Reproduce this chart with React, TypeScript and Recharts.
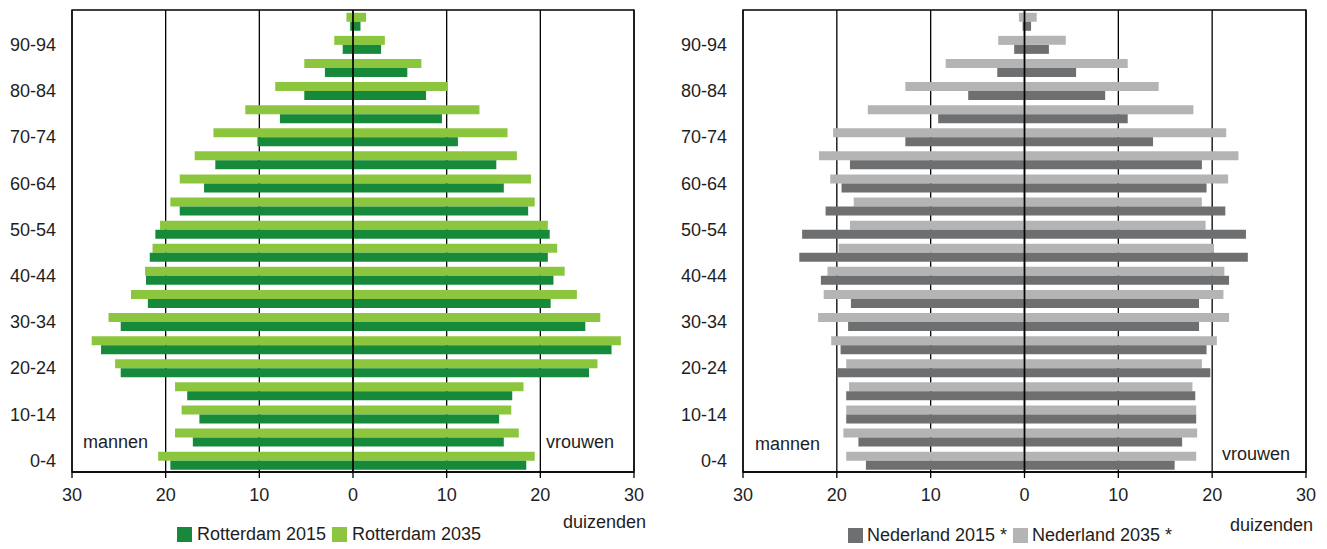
import React from 'react';
import { BarChart, Bar, XAxis, YAxis, CartesianGrid, ReferenceLine, ReferenceArea } from 'recharts';

// bevolkingspiramides Rotterdam en Nederland, x 1000 (duizenden)
const AGE_GROUPS = [
  '0-4', '5-9', '10-14', '15-19', '20-24', '25-29', '30-34', '35-39', '40-44', '45-49',
  '50-54', '55-59', '60-64', '65-69', '70-74', '75-79', '80-84', '85-89', '90-94', '95+',
];

const ROTTERDAM_MEN_2015 = [19.5, 17.1, 16.4, 17.7, 24.8, 26.9, 24.8, 21.9, 22.1, 21.7, 21.1, 18.5, 15.9, 14.7, 10.2, 7.8, 5.2, 3.0, 1.1, 0.3];
const ROTTERDAM_WOMEN_2015 = [18.5, 16.1, 15.6, 17.0, 25.2, 27.6, 24.8, 21.1, 21.4, 20.8, 21.0, 18.7, 16.1, 15.3, 11.2, 9.5, 7.8, 5.8, 3.0, 0.8];
const ROTTERDAM_MEN_2035 = [20.8, 19.0, 18.3, 19.0, 25.4, 27.9, 26.1, 23.7, 22.2, 21.4, 20.6, 19.5, 18.5, 16.9, 14.9, 11.5, 8.3, 5.2, 2.0, 0.7];
const ROTTERDAM_WOMEN_2035 = [19.4, 17.7, 16.9, 18.2, 26.1, 28.6, 26.4, 23.9, 22.6, 21.8, 20.8, 19.4, 19.0, 17.5, 16.5, 13.5, 10.1, 7.3, 3.4, 1.4];

const NEDERLAND_MEN_2015 = [16.9, 17.7, 19.0, 19.0, 20.0, 19.6, 18.8, 18.5, 21.7, 24.0, 23.7, 21.2, 19.5, 18.6, 12.7, 9.2, 6.0, 2.9, 1.1, 0.2];
const NEDERLAND_WOMEN_2015 = [16.0, 16.8, 18.3, 18.2, 19.8, 19.4, 18.6, 18.6, 21.8, 23.8, 23.6, 21.4, 19.4, 18.9, 13.7, 11.0, 8.6, 5.5, 2.6, 0.7];
const NEDERLAND_MEN_2035 = [19.0, 19.3, 19.0, 18.7, 19.0, 20.6, 22.0, 21.4, 21.0, 19.8, 18.6, 18.2, 20.7, 21.9, 20.4, 16.7, 12.7, 8.4, 2.8, 0.6];
const NEDERLAND_WOMEN_2035 = [18.3, 18.4, 18.3, 17.9, 18.9, 20.5, 21.8, 21.2, 21.3, 20.2, 19.3, 18.9, 21.7, 22.8, 21.5, 18.0, 14.3, 11.0, 4.4, 1.3];

const X_TICKS = [-30, -20, -10, 0, 10, 20, 30];

const DARK_GREEN = '#168a3a';
const LIGHT_GREEN = '#8cc63f';
const DARK_GRAY = '#6e6f70';
const LIGHT_GRAY = '#b4b4b4';

const FONT = '"Liberation Sans", Arial, sans-serif';
const FONT_SIZE = 18;
const TEXT_COLOR = '#1e1e1e';

function buildRows(men2015: number[], women2015: number[], men2035: number[], women2035: number[]) {
  return AGE_GROUPS.map((age, i) => ({
    age,
    m2015: -men2015[i],
    w2015: women2015[i],
    m2035: -men2035[i],
    w2035: women2035[i],
  }));
}

interface PyramidProps {
  rows: ReturnType<typeof buildRows>;
  dark: string;
  light: string;
  width: number;
  yAxisWidth: number;
  marginRight: number;
}

function Pyramid({ rows, dark, light, width, yAxisWidth, marginRight }: PyramidProps) {
  // stackId niet numeriek laten, anders sorteert de object-volgorde 2015 voor 2035
  return (
    <BarChart
      width={width}
      height={549}
      data={rows}
      layout="vertical"
      stackOffset="sign"
      barCategoryGap="12%"
      barGap={0}
      margin={{ top: 10, right: marginRight, bottom: 47, left: 0 }}
    >
      <CartesianGrid horizontal={false} stroke="#000" strokeWidth={1.3} />
      <XAxis
        type="number"
        domain={[-30, 30]}
        ticks={X_TICKS}
        tickFormatter={(v: number) => String(Math.abs(v))}
        stroke="#000"
        strokeWidth={1.3}
        tick={{ fill: TEXT_COLOR, fontSize: FONT_SIZE, fontFamily: FONT }}
        tickMargin={10}
        height={30}
      />
      <YAxis
        type="category"
        dataKey="age"
        reversed
        interval={1}
        width={yAxisWidth}
        axisLine={false}
        tickLine={false}
        tickMargin={10}
        tick={{ fill: TEXT_COLOR, fontSize: FONT_SIZE, fontFamily: FONT }}
      />
      <Bar dataKey="m2035" stackId="jaar2035" fill={light} isAnimationActive={false} />
      <Bar dataKey="w2035" stackId="jaar2035" fill={light} isAnimationActive={false} />
      <Bar dataKey="m2015" stackId="jaar2015" fill={dark} isAnimationActive={false} />
      <Bar dataKey="w2015" stackId="jaar2015" fill={dark} isAnimationActive={false} />
      <ReferenceLine x={0} stroke="#000" strokeWidth={1.7} />
      <ReferenceArea x1={-30} x2={30} fill="none" stroke="#000" strokeWidth={1.3} />
    </BarChart>
  );
}

function Txt({ x, y, children }: { x: number; y: number; children: React.ReactNode }) {
  // y = midden van de regel
  return (
    <div
      style={{
        position: 'absolute',
        left: x,
        top: y - 10,
        lineHeight: '20px',
        fontSize: FONT_SIZE,
        fontFamily: FONT,
        color: TEXT_COLOR,
        whiteSpace: 'nowrap',
      }}
    >
      {children}
    </div>
  );
}

function Swatch({ x, y, color }: { x: number; y: number; color: string }) {
  return <div style={{ position: 'absolute', left: x, top: y - 7.5, width: 15, height: 15, background: color }} />;
}

export default function App() {
  const rotterdam = buildRows(ROTTERDAM_MEN_2015, ROTTERDAM_WOMEN_2015, ROTTERDAM_MEN_2035, ROTTERDAM_WOMEN_2035);
  const nederland = buildRows(NEDERLAND_MEN_2015, NEDERLAND_WOMEN_2015, NEDERLAND_MEN_2035, NEDERLAND_WOMEN_2035);

  return (
    <div style={{ position: 'relative', width: 1327, height: 549, background: '#fff' }}>
      <style>{'body { margin: 0; }'}</style>
      <div style={{ position: 'absolute', left: 0, top: 0 }}>
        <Pyramid rows={rotterdam} dark={DARK_GREEN} light={LIGHT_GREEN} width={660} yAxisWidth={72} marginRight={26} />
      </div>
      <div style={{ position: 'absolute', left: 660, top: 0 }}>
        <Pyramid rows={nederland} dark={DARK_GRAY} light={LIGHT_GRAY} width={667} yAxisWidth={83} marginRight={21} />
      </div>

      <Txt x={83} y={442}>mannen</Txt>
      <Txt x={546} y={442}>vrouwen</Txt>
      <Txt x={563} y={522}>duizenden</Txt>
      <Swatch x={177} y={534} color={DARK_GREEN} />
      <Txt x={197} y={534}>Rotterdam 2015</Txt>
      <Swatch x={332} y={534} color={LIGHT_GREEN} />
      <Txt x={352} y={534}>Rotterdam 2035</Txt>

      <Txt x={755} y={444}>mannen</Txt>
      <Txt x={1222} y={454}>vrouwen</Txt>
      <Txt x={1230} y={525}>duizenden</Txt>
      <Swatch x={848} y={535} color={DARK_GRAY} />
      <Txt x={867} y={535}>Nederland 2015 *</Txt>
      <Swatch x={1013} y={535} color={LIGHT_GRAY} />
      <Txt x={1032} y={535}>Nederland 2035 *</Txt>
    </div>
  );
}
